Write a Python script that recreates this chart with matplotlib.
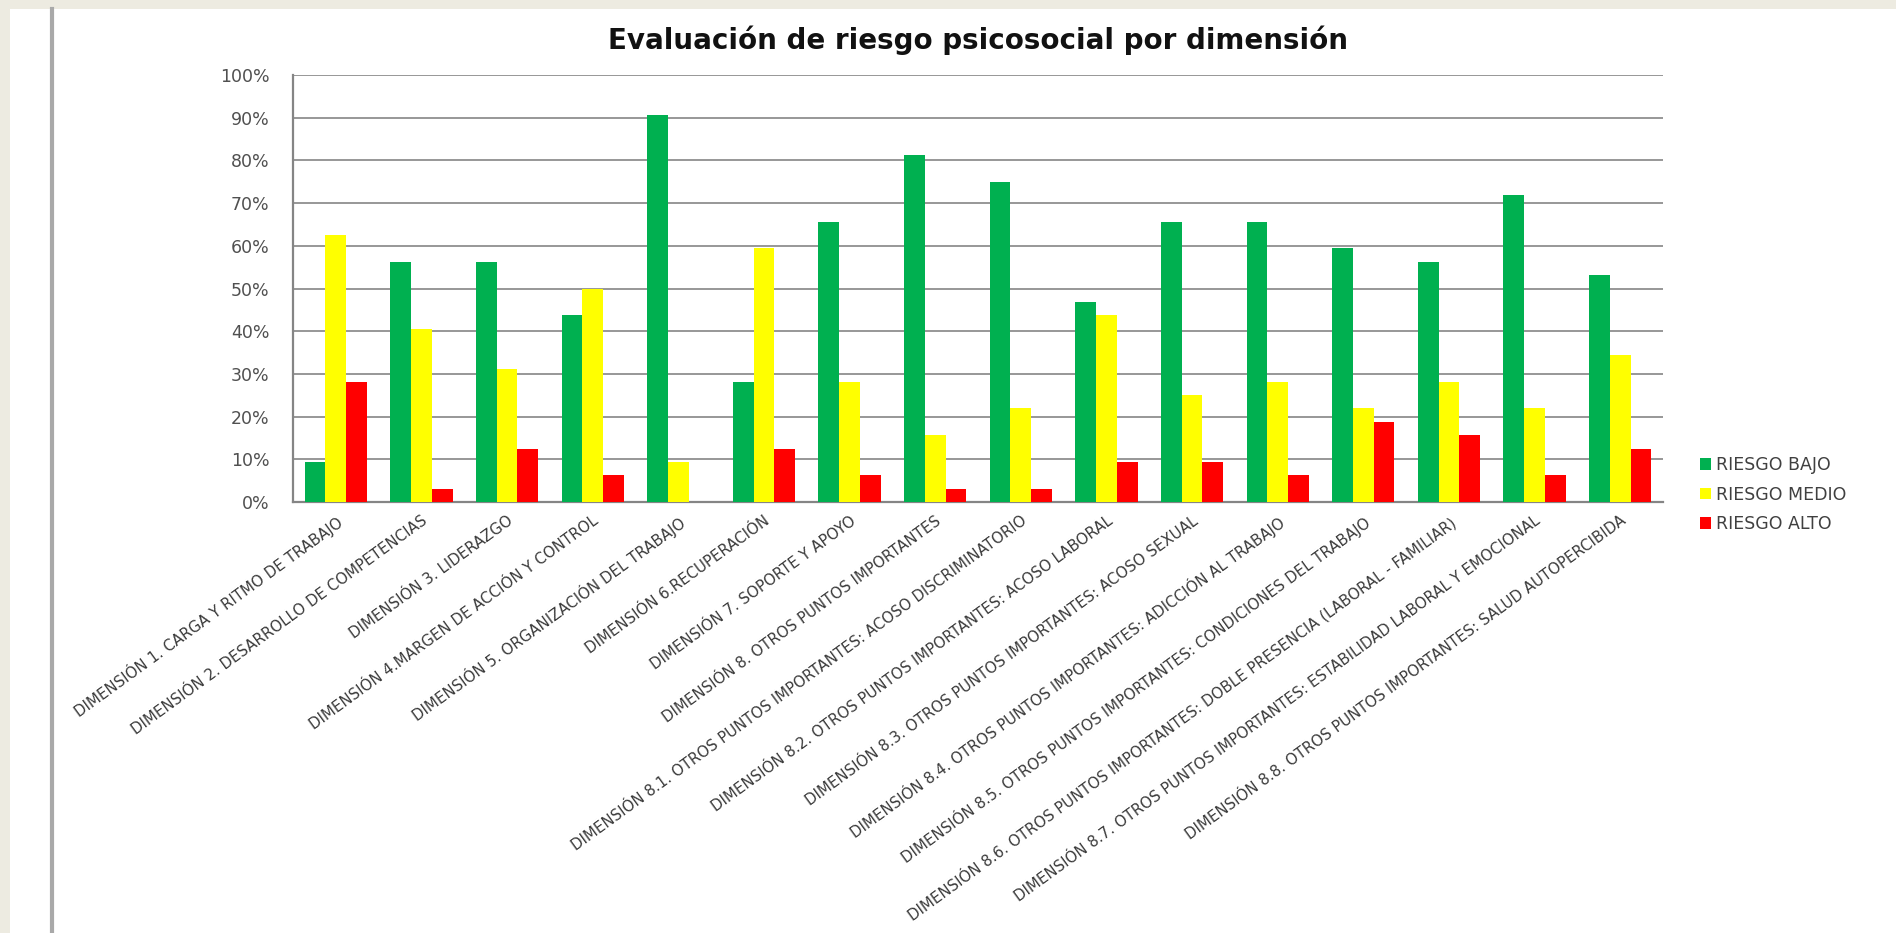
import matplotlib
matplotlib.use("Agg")
import matplotlib.pyplot as plt
import numpy as np
from matplotlib.patches import Rectangle
from matplotlib.lines import Line2D

categories = [
    "DIMENSIÓN 1. CARGA Y RITMO DE TRABAJO",
    "DIMENSIÓN 2. DESARROLLO DE COMPETENCIAS",
    "DIMENSIÓN 3. LIDERAZGO",
    "DIMENSIÓN 4.MARGEN DE ACCIÓN Y CONTROL",
    "DIMENSIÓN 5. ORGANIZACIÓN DEL TRABAJO",
    "DIMENSIÓN 6.RECUPERACIÓN",
    "DIMENSIÓN 7. SOPORTE Y APOYO",
    "DIMENSIÓN 8. OTROS PUNTOS IMPORTANTES",
    "DIMENSIÓN 8.1. OTROS PUNTOS IMPORTANTES: ACOSO DISCRIMINATORIO",
    "DIMENSIÓN 8.2. OTROS PUNTOS IMPORTANTES: ACOSO LABORAL",
    "DIMENSIÓN 8.3. OTROS PUNTOS IMPORTANTES: ACOSO SEXUAL",
    "DIMENSIÓN 8.4. OTROS PUNTOS IMPORTANTES: ADICCIÓN AL TRABAJO",
    "DIMENSIÓN 8.5. OTROS PUNTOS IMPORTANTES: CONDICIONES DEL TRABAJO",
    "DIMENSIÓN 8.6. OTROS PUNTOS IMPORTANTES: DOBLE PRESENCIA (LABORAL - FAMILIAR)",
    "DIMENSIÓN 8.7. OTROS PUNTOS IMPORTANTES: ESTABILIDAD LABORAL Y EMOCIONAL",
    "DIMENSIÓN 8.8. OTROS PUNTOS IMPORTANTES: SALUD AUTOPERCIBIDA",
]

riesgo_bajo = [9.4, 56.25, 56.25, 43.75, 90.6, 28.1, 65.6, 81.25, 75.0, 46.9, 65.6, 65.6, 59.4, 56.25, 71.9, 53.1]
riesgo_medio = [62.5, 40.6, 31.25, 50.0, 9.4, 59.4, 28.1, 15.6, 21.9, 43.75, 25.0, 28.1, 21.9, 28.1, 21.9, 34.4]
riesgo_alto = [28.1, 3.1, 12.5, 6.25, 0.0, 12.5, 6.25, 3.1, 3.1, 9.4, 9.4, 6.25, 18.75, 15.6, 6.25, 12.5]

series_names = ["RIESGO BAJO", "RIESGO MEDIO", "RIESGO ALTO"]
series_colors = ["#00B050", "#FFFF00", "#FF0000"]
y_ticks = list(range(0, 101, 10))
title = "Evaluación de riesgo psicosocial por dimensión"

W, H = 1896, 933
fig = plt.figure(figsize=(W / 100, H / 100), dpi=100)
fig.patch.set_facecolor("#EDEBE1")
fig.patches.append(Rectangle((10 / W, 0), 1 - 10 / W, 1 - 9 / H, transform=fig.transFigure,
                             facecolor="white", edgecolor="none", zorder=-3))
fig.lines.append(Line2D([52 / W, 52 / W], [0, 1 - 9 / H], transform=fig.transFigure,
                        color="#A9A9A9", linewidth=3.0, zorder=-2))

ax = fig.add_axes([293 / W, 1 - 502 / H, (1663 - 293) / W, (502 - 75) / H])
ax.set_facecolor("white")

x = np.arange(len(categories))
bw = 0.242
for i, (vals, name, col) in enumerate(zip([riesgo_bajo, riesgo_medio, riesgo_alto], series_names, series_colors)):
    ax.bar(x + (i - 1) * bw, vals, width=bw, color=col, label=name, zorder=3, linewidth=0)

ax.set_xlim(-0.5, len(categories) - 0.5)
ax.set_ylim(0, 100)
ax.set_yticks(y_ticks)
ax.set_yticklabels([f"{v}%" for v in y_ticks], fontsize=12.5, color="#505050", family="DejaVu Sans")
ax.tick_params(axis="y", length=0, pad=17)
ax.yaxis.grid(True, color="#858585", linewidth=1.2, zorder=0)
ax.set_axisbelow(True)

ax.set_xticks(x)
ax.set_xticklabels(categories, rotation=36, ha="right", va="top", rotation_mode="anchor",
                   fontsize=10.8, color="#3A3A3A", family="DejaVu Sans")
ax.tick_params(axis="x", length=0, pad=8)

for s in ["top", "right"]:
    ax.spines[s].set_visible(False)
for s in ["left", "bottom"]:
    ax.spines[s].set_color("#858585")
    ax.spines[s].set_linewidth(1.6)

ax.set_title(title, fontsize=20, fontweight="bold", family="DejaVu Sans", pad=19, color="#111111")

fig.legend(loc="upper left", bbox_to_anchor=(1700 / W, 1 - 456 / H), frameon=False,
           handlelength=0.65, handleheight=0.65, handletextpad=0.25,
           labelspacing=0.67, borderaxespad=0, borderpad=0,
           prop={"family": "DejaVu Sans", "size": 12.5})
for t in fig.legends[0].get_texts():
    t.set_color("#404040")

fig.savefig("out.png", dpi=100, facecolor=fig.get_facecolor())
